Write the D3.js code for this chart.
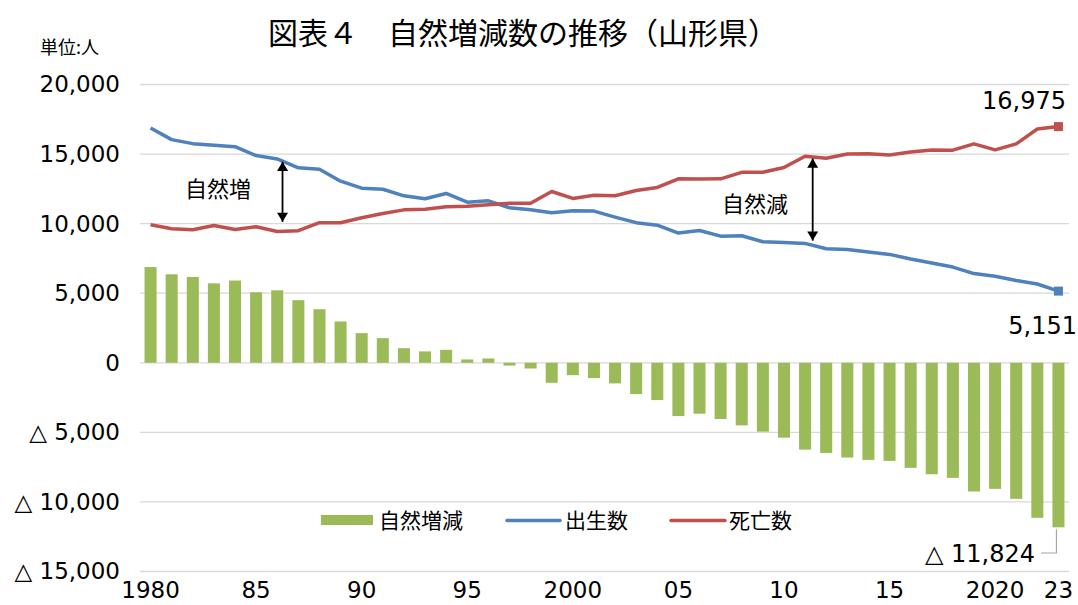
<!DOCTYPE html>
<html>
<head>
<meta charset="utf-8">
<script src="https://cdn.jsdelivr.net/npm/d3@7"></script>
<style>
  body { margin: 0; background: #fff; }
  text { font-family: "Noto Sans CJK JP", "Noto Sans", sans-serif; fill: #000; }
  .num { font-family: "DejaVu Sans", sans-serif; }
</style>
</head>
<body>
<script>
  // 年 (1980-2023)
  var years = [1980, 1981, 1982, 1983, 1984, 1985, 1986, 1987, 1988, 1989,
    1990, 1991, 1992, 1993, 1994, 1995, 1996, 1997, 1998, 1999,
    2000, 2001, 2002, 2003, 2004, 2005, 2006, 2007, 2008, 2009,
    2010, 2011, 2012, 2013, 2014, 2015, 2016, 2017, 2018, 2019,
    2020, 2021, 2022, 2023];

  // 出生数
  var births = [16880, 16040, 15750, 15630, 15530, 14890, 14650, 14010, 13910, 13050,
    12550, 12470, 12000, 11790, 12170, 11540, 11640, 11140, 11000, 10780,
    10920, 10900, 10470, 10070, 9890, 9320, 9510, 9100, 9130, 8700,
    8650, 8580, 8200, 8140, 7960, 7790, 7460, 7170, 6880, 6410,
    6220, 5910, 5660, 5151];

  // 死亡数
  var deaths = [9920, 9630, 9560, 9870, 9580, 9780, 9440, 9490, 10070, 10060,
    10420, 10730, 10990, 11040, 11210, 11250, 11350, 11470, 11470, 12310,
    11810, 12040, 12000, 12380, 12600, 13220, 13210, 13220, 13690, 13690,
    14030, 14840, 14700, 15000, 15030, 14940, 15150, 15300, 15280, 15730,
    15300, 15730, 16800, 16975];

  // 自然増減
  var natural = [6880, 6360, 6170, 5710, 5910, 5070, 5210, 4500, 3850, 2970,
    2130, 1770, 1050, 820, 930, 240, 310, -200, -410, -1440,
    -890, -1100, -1480, -2250, -2680, -3830, -3660, -4040, -4500, -4950,
    -5380, -6240, -6480, -6810, -6980, -7050, -7550, -8010, -8270, -9250,
    -9060, -9780, -11140, -11824];

  var yTicks = [20000, 15000, 10000, 5000, 0, -5000, -10000, -15000];
  var xTickYears = [1980, 1985, 1990, 1995, 2000, 2005, 2010, 2015, 2020, 2023];
  var xTickLabels = ["1980", "85", "90", "95", "2000", "05", "10", "15", "2020", "23"];

  var W = 1078, H = 605;
  var green = "#9BBB59", blue = "#4F81BD", red = "#C0504D";

  var svg = d3.select("body").append("svg").attr("width", W).attr("height", H);

  var x = d3.scaleBand().domain(years).range([140, 1069]).paddingInner(0.43).paddingOuter(0.215);
  var y = d3.scaleLinear().domain([-15000, 20000]).range([571.5, 84.5]);
  var cx = function (yr) { return x(yr) + x.bandwidth() / 2; };
  var fmt = d3.format(",");
  var tri = function (v) { return v < 0 ? "\u25B3 " + fmt(-v) : fmt(v); };

  // gridlines
  svg.append("g").selectAll("line").data(yTicks).enter().append("line")
    .attr("x1", 140).attr("x2", 1069)
    .attr("y1", function (d) { return y(d); }).attr("y2", function (d) { return y(d); })
    .attr("stroke", "#d9d9d9").attr("stroke-width", 1.3);

  // y axis labels
  var yAxis = d3.axisLeft(y).tickValues(yTicks).tickFormat(tri).tickSize(0).tickPadding(0);
  svg.append("g").attr("transform", "translate(120,0)").call(yAxis)
    .call(function (g) { g.select(".domain").remove(); })
    .selectAll("text").attr("class", "num").style("font-size", "23px").attr("font-family", null);

  // x axis labels
  var xAxis = d3.axisBottom(x).tickValues(xTickYears)
    .tickFormat(function (d) { return xTickLabels[xTickYears.indexOf(d)]; })
    .tickSize(0).tickPadding(0);
  svg.append("g").attr("transform", "translate(0,582)").call(xAxis)
    .call(function (g) { g.select(".domain").remove(); })
    .selectAll("text").attr("class", "num").style("font-size", "23px").attr("font-family", null);

  // bars
  svg.append("g").selectAll("rect").data(natural).enter().append("rect")
    .attr("x", function (d, i) { return x(years[i]); })
    .attr("width", x.bandwidth())
    .attr("y", function (d) { return y(Math.max(0, d)); })
    .attr("height", function (d) { return Math.abs(y(d) - y(0)); })
    .attr("fill", green);

  // lines
  var line = d3.line().x(function (d, i) { return cx(years[i]); }).y(function (d) { return y(d); });
  [[births, blue], [deaths, red]].forEach(function (s) {
    svg.append("path").datum(s[0]).attr("d", line)
      .attr("fill", "none").attr("stroke", s[1]).attr("stroke-width", 3.5)
      .attr("stroke-linejoin", "round");
    var last = years.length - 1;
    svg.append("rect")
      .attr("x", cx(years[last]) - 4.5).attr("y", y(s[0][last]) - 4.5)
      .attr("width", 9).attr("height", 9).attr("fill", s[1]);
  });

  // value labels
  var last = years.length - 1;
  svg.append("text").attr("class", "num").attr("x", 1066).attr("y", y(deaths[last]) - 18)
    .attr("text-anchor", "end").style("font-size", "24px").text(fmt(deaths[last]));
  svg.append("text").attr("class", "num").attr("x", 1077).attr("y", y(births[last]) + 43)
    .attr("text-anchor", "end").style("font-size", "24px").text(fmt(births[last]));
  svg.append("text").attr("class", "num").attr("x", 1035).attr("y", 562)
    .attr("text-anchor", "end").style("font-size", "24px").text(tri(natural[last]));
  svg.append("path")
    .attr("d", "M1041," + 553 + "H" + (cx(years[last]) - 2) + "V" + (y(natural[last]) + 2))
    .attr("fill", "none").attr("stroke", "#a6a6a6").attr("stroke-width", 1.2);

  // arrows
  var defs = svg.append("defs");
  defs.append("marker").attr("id", "ah").attr("viewBox", "0 0 10 12")
    .attr("refX", 10).attr("refY", 6).attr("markerUnits", "userSpaceOnUse")
    .attr("markerWidth", 11).attr("markerHeight", 11)
    .attr("orient", "auto-start-reverse")
    .append("path").attr("d", "M0,0L10,6L0,12z").attr("fill", "#000");

  function arrow(yr, frac, v1, v2) {
    var xx = cx(yr) + frac * x.step();
    svg.append("line").attr("x1", xx).attr("x2", xx)
      .attr("y1", y(v1)).attr("y2", y(v2))
      .attr("stroke", "#000").attr("stroke-width", 1.8)
      .attr("marker-start", "url(#ah)").attr("marker-end", "url(#ah)");
  }
  arrow(1986, 0.25, 14450, 10130);
  arrow(2011, 0.36, 14680, 8780);

  svg.append("text").attr("x", 185).attr("y", 197).style("font-size", "22px").text("自然増");
  svg.append("text").attr("x", 722).attr("y", 212).style("font-size", "22px").text("自然減");

  // title, unit
  svg.append("text").attr("x", 523).attr("y", 44).attr("text-anchor", "middle")
    .style("font-size", "30px").text("図表４　自然増減数の推移（山形県）");
  svg.append("text").attr("x", 40).attr("y", 54).style("font-size", "18px").text("単位:人");

  // legend
  var lg = svg.append("g");
  lg.append("rect").attr("x", 321).attr("y", 515).attr("width", 52).attr("height", 10).attr("fill", green);
  lg.append("text").attr("x", 379).attr("y", 528).style("font-size", "21px").text("自然増減");
  lg.append("line").attr("x1", 507).attr("x2", 560).attr("y1", 520.5).attr("y2", 520.5)
    .attr("stroke", blue).attr("stroke-width", 3.5).attr("stroke-linecap", "round");
  lg.append("text").attr("x", 565).attr("y", 528).style("font-size", "21px").text("出生数");
  lg.append("line").attr("x1", 671).attr("x2", 725).attr("y1", 520.5).attr("y2", 520.5)
    .attr("stroke", red).attr("stroke-width", 3.5).attr("stroke-linecap", "round");
  lg.append("text").attr("x", 729).attr("y", 528).style("font-size", "21px").text("死亡数");
</script>
</body>
</html>
